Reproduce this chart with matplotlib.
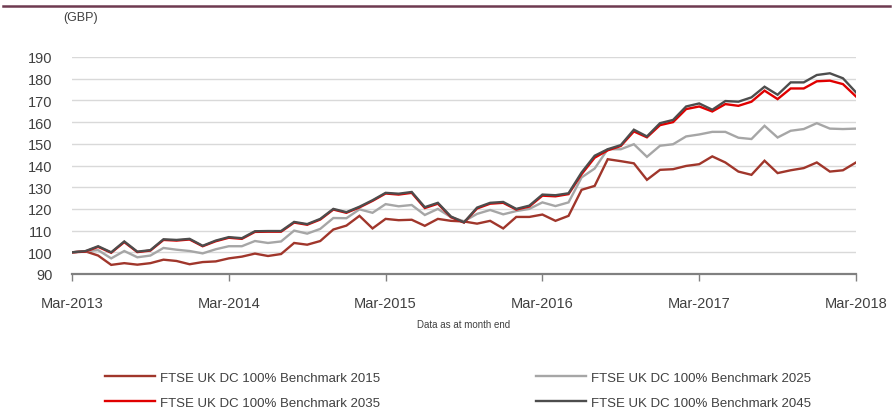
import matplotlib.pyplot as plt
import matplotlib.lines as mlines

plt.rcParams['font.family'] = ['Liberation Sans', 'DejaVu Sans']

# Monthly index values, Mar-2013 .. Mar-2018 (61 month ends)
bench_2015 = [100, 100.5, 98.5, 94.2, 95, 94.3, 95, 96.6, 96, 94.5,
              95.5, 95.8, 97.2, 98, 99.4, 98.3, 99.2, 104.3, 103.5, 105.2,
              110.5, 112.3, 116.8, 111, 115.4, 114.8, 115, 112.2, 115.4, 114.5,
              114.2, 113.2, 114.5, 111, 116.3, 116.3, 117.4, 114.5, 116.8, 128.8,
              130.6, 142.9, 142, 141, 133.4, 138, 138.3, 139.8, 140.6, 144.2,
              141.4, 137.2, 135.7, 142.2, 136.5, 137.8, 138.8, 141.4, 137.2, 137.8,
              141.4]
bench_2025 = [100, 100.5, 101, 97.2, 100.6, 97.7, 98.5, 102, 101.2, 100.6,
              99.5, 101.4, 102.8, 102.8, 105.2, 104.3, 105, 110, 108.6, 110.8,
              115.8, 115.7, 119.8, 118.2, 122.2, 121.2, 121.8, 117.2, 120, 116.2,
              114.3, 117.7, 119.5, 117.5, 119, 120, 123, 121.3, 123, 134.5,
              138.6, 147.5, 147.5, 149.8, 144, 149.1, 149.8, 153.4, 154.3, 155.5,
              155.5, 152.8, 152.2, 158.3, 152.9, 156, 156.8, 159.5, 157, 156.8,
              157]
bench_2035 = [100, 100.3, 102.5, 99.8, 104.7, 100.1, 100.8, 105.7, 105.4, 105.9,
              102.8, 105.1, 106.7, 106.2, 109.4, 109.5, 109.5, 113.7, 112.7, 115.1,
              119.7, 118.2, 120.7, 123.7, 127.1, 126.6, 127.4, 120.4, 122.4, 116.2,
              113.7, 120.2, 122.4, 122.8, 119.7, 121.1, 126.1, 125.8, 126.8, 136.0,
              143.6, 147.0, 149.0, 155.7, 153, 158.6, 160, 166, 167.2, 164.9,
              168.3, 167.5, 169.4, 174.5, 170.6, 175.5, 175.5, 178.8, 179.1, 177.5,
              171.8]
bench_2045 = [100, 100.5, 102.8, 100, 105, 100.3, 101, 106, 105.7, 106.2,
              103, 105.4, 107, 106.5, 109.7, 109.8, 109.8, 114, 113, 115.4,
              120, 118.5, 121, 124, 127.4, 127, 127.8, 120.8, 122.8, 116.5,
              113.8, 120.6, 122.8, 123.2, 120, 121.5, 126.6, 126.3, 127.2, 136.8,
              144.5, 147.5, 149.4, 156.5, 153.4, 159.5, 161, 167.2, 168.6, 165.7,
              169.7, 169.4, 171.4, 176.3, 172.6, 178.3, 178.3, 181.7, 182.5, 180.2,
              173.7]

tick_labels = ['Mar-2013', 'Mar-2014', 'Mar-2015', 'Mar-2016', 'Mar-2017', 'Mar-2018']
series_names = ['FTSE UK DC 100% Benchmark 2015', 'FTSE UK DC 100% Benchmark 2025',
                'FTSE UK DC 100% Benchmark 2035', 'FTSE UK DC 100% Benchmark 2045']
colors = ['#a0362b', '#a6a6a6', '#e00000', '#4d4d4d']

months = list(range(len(bench_2015)))

fig = plt.figure(figsize=(8.93, 4.10), dpi=100)
ax = fig.add_axes([72 / 893, 1 - 275 / 410, 784 / 893, 217 / 410])

lines = []
for vals, name, col in zip([bench_2015, bench_2025, bench_2035, bench_2045], series_names, colors):
    ln, = ax.plot(months, vals, color=col, lw=1.7, label=name, solid_joinstyle='miter')
    lines.append(ln)

ax.set_xlim(0, 60)
ax.set_ylim(90, 190)
ax.set_yticks(range(90, 191, 10))
ax.set_xticks(range(0, 61, 12))
ax.set_xticklabels(tick_labels)

ax.grid(axis='y', color='#d9d9d9', lw=1)
ax.set_axisbelow(True)
for s in ['top', 'right', 'left']:
    ax.spines[s].set_visible(False)
ax.spines['bottom'].set_color('#808080')
ax.spines['bottom'].set_linewidth(1.6)
ax.tick_params(axis='y', length=0, pad=14, labelsize=10.5, labelcolor='#404040')
ax.tick_params(axis='x', length=5, width=1, color='#808080', pad=11,
               labelsize=10.5, labelcolor='#404040')

fig.text(63 / 893, 1 - 18 / 410, '(GBP)', fontsize=9, color='#404040', va='center')
fig.text(464 / 893, 1 - 325 / 410, 'Data as at month end', fontsize=7, color='#404040',
         ha='center', va='center')

# header rule at the very top
fig.add_artist(mlines.Line2D([3 / 893, 890 / 893], [1 - 7 / 410, 1 - 7 / 410],
                             color='#6e3a50', lw=1.8))

# legend: 2015 | 2025 on first row, 2035 | 2045 on second
fig.legend([lines[0], lines[2], lines[1], lines[3]],
           [series_names[0], series_names[2], series_names[1], series_names[3]],
           ncol=2, frameon=False, loc='center', bbox_to_anchor=(458 / 893, 1 - 391 / 410),
           fontsize=9.5, handlelength=3.8, handletextpad=0.4, columnspacing=11.8,
           labelspacing=0.95, labelcolor='#404040')

fig.savefig('out.png', dpi=100)
